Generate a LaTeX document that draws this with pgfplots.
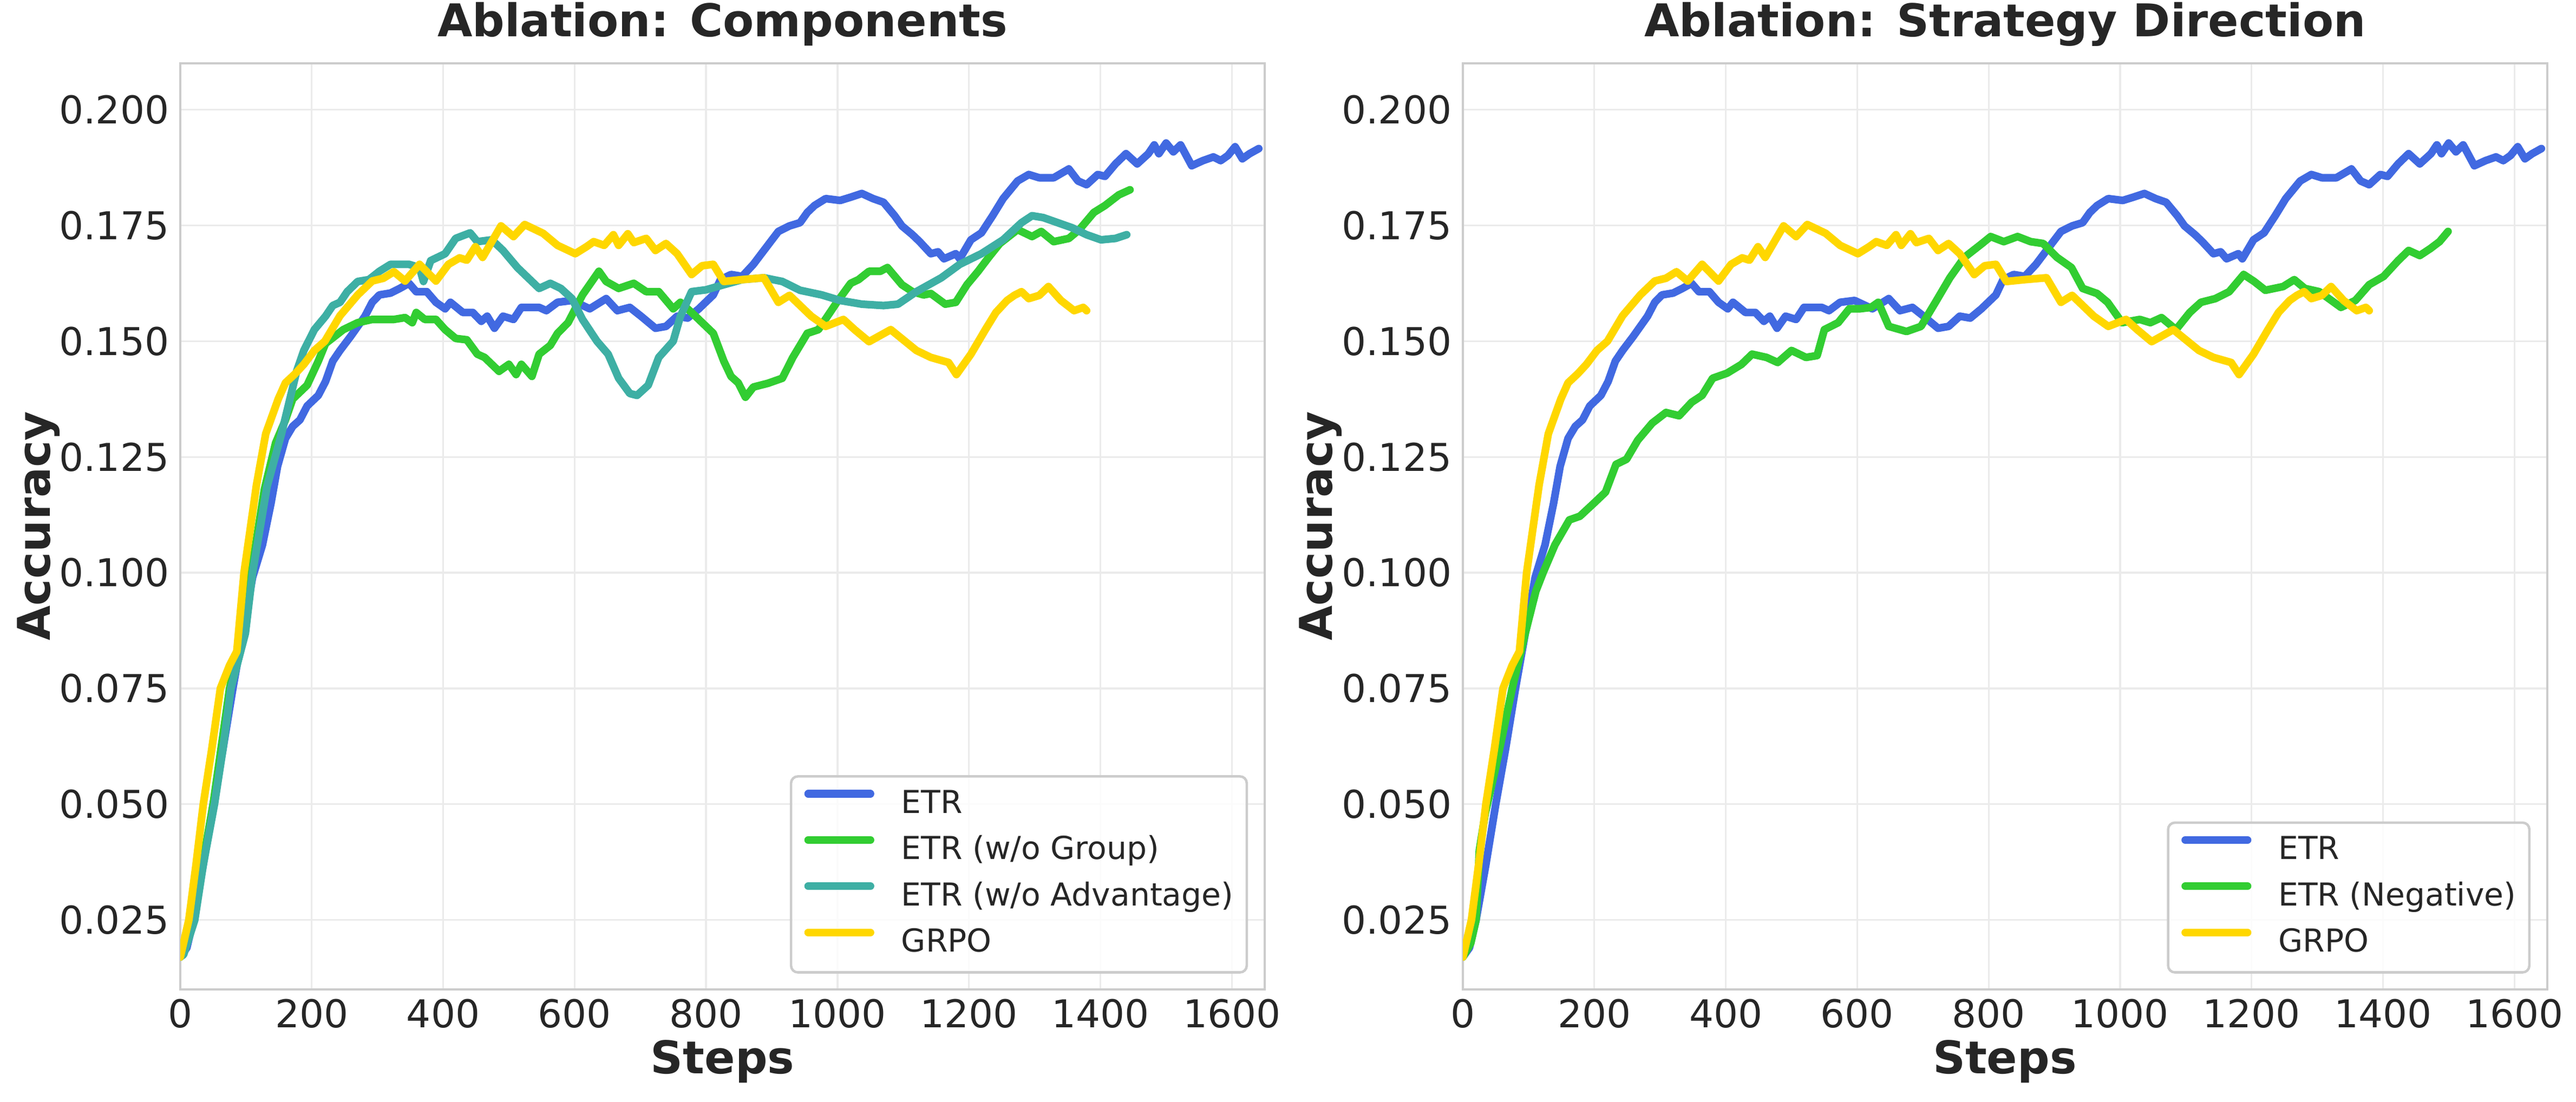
\documentclass[border=0pt]{standalone}
\usepackage{pgfplots}
\pgfplotsset{compat=1.18}
\usepackage{pgfplotstable}
\usepackage{fontspec}
\setmainfont{DejaVu Sans}

\definecolor{txt}{HTML}{262626}
\definecolor{spine}{HTML}{CCCCCC}
\definecolor{gridc}{HTML}{EBEBEB}
\definecolor{etr}{HTML}{4169E1}
\definecolor{nogroup}{HTML}{32CD32}
\definecolor{noadv}{HTML}{3EAFA4}
\definecolor{grpo}{HTML}{FFD700}

% ETR (shared by both panels)
\pgfplotstableread{
step acc
0 0.0170
10 0.0190
20 0.0250
35 0.0370
50 0.0500
65 0.0620
80 0.0750
95 0.0870
110 0.0990
125 0.1060
138 0.1150
148 0.1230
160 0.1290
171 0.1316
182 0.1330
193 0.1360
210 0.1383
221 0.1413
232 0.1457
243 0.1480
259 0.1510
270 0.1532
281 0.1554
292 0.1584
303 0.1600
320 0.1604
334 0.1614
348 0.1625
359 0.1607
375 0.1607
389 0.1584
403 0.1570
411 0.1584
430 0.1562
445 0.1562
458 0.1543
467 0.1554
478 0.1528
491 0.1554
507 0.1547
519 0.1573
546 0.1573
557 0.1566
574 0.1584
596 0.1588
623 0.1570
648 0.1592
665 0.1566
684 0.1573
701 0.1554
723 0.1528
739 0.1532
756 0.1554
772 0.1550
789 0.1570
811 0.1600
822 0.1633
838 0.1644
855 0.1640
872 0.1666
888 0.1696
910 0.1737
927 0.1749
943 0.1756
954 0.1778
965 0.1793
982 0.1808
1004 0.1804
1020 0.1811
1037 0.1819
1054 0.1808
1070 0.1800
1087 0.1771
1098 0.1749
1114 0.1730
1125 0.1715
1142 0.1689
1153 0.1693
1162 0.1678
1180 0.1689
1186 0.1678
1203 0.1719
1219 0.1734
1236 0.1771
1252 0.1808
1274 0.1846
1291 0.1860
1307 0.1853
1329 0.1853
1352 0.1872
1366 0.1846
1379 0.1838
1396 0.1860
1407 0.1856
1423 0.1883
1439 0.1905
1456 0.1883
1473 0.1905
1482 0.1924
1489 0.1905
1500 0.1928
1511 0.1909
1522 0.1924
1539 0.1879
1556 0.1890
1572 0.1898
1583 0.1890
1594 0.1901
1605 0.1920
1616 0.1894
1627 0.1905
1641 0.1916
}\etrdata

% GRPO (shared by both panels)
\pgfplotstableread{
step acc
0 0.0170
13 0.0250
24 0.0370
35 0.0500
48 0.0620
61 0.0750
75 0.0800
86 0.0830
97 0.1000
107 0.1100
116 0.1190
130 0.1300
149 0.1375
160 0.1410
175 0.1430
188 0.1450
204 0.1480
220 0.1500
243 0.1555
270 0.1600
292 0.1630
309 0.1636
325 0.1650
342 0.1630
364 0.1666
389 0.1630
408 0.1666
425 0.1680
436 0.1675
449 0.1704
460 0.1681
488 0.1749
507 0.1726
524 0.1752
552 0.1733
574 0.1707
601 0.1689
618 0.1704
629 0.1715
645 0.1707
659 0.1730
667 0.1707
681 0.1732
690 0.1713
709 0.1722
723 0.1696
739 0.1711
756 0.1689
778 0.1644
794 0.1663
811 0.1666
827 0.1629
855 0.1633
888 0.1637
910 0.1584
927 0.1599
960 0.1554
982 0.1532
1009 0.1547
1026 0.1525
1048 0.1499
1081 0.1525
1120 0.1480
1142 0.1465
1169 0.1454
1181 0.1428
1203 0.1472
1225 0.1525
1241 0.1562
1258 0.1588
1269 0.1599
1280 0.1607
1291 0.1592
1307 0.1599
1321 0.1618
1340 0.1588
1360 0.1566
1374 0.1573
1379 0.1566
}\grpodata

% ETR (w/o Group)
\pgfplotstableread{
step acc
0 0.0170
20 0.0260
50 0.0500
75 0.0750
98 0.0900
108 0.1000
128 0.1180
145 0.1280
160 0.1330
171 0.1375
193 0.1405
210 0.1457
221 0.1495
248 0.1525
270 0.1540
292 0.1547
325 0.1547
342 0.1551
353 0.1540
359 0.1562
372 0.1547
389 0.1547
403 0.1525
419 0.1506
436 0.1503
452 0.1472
463 0.1465
485 0.1435
500 0.1450
511 0.1428
519 0.1450
535 0.1424
546 0.1472
563 0.1491
574 0.1517
590 0.1540
612 0.1600
637 0.1651
648 0.1629
667 0.1614
690 0.1625
709 0.1607
728 0.1607
750 0.1570
761 0.1584
778 0.1562
811 0.1517
827 0.1457
838 0.1424
849 0.1410
860 0.1379
872 0.1401
894 0.1409
916 0.1420
932 0.1465
954 0.1517
971 0.1525
999 0.1584
1020 0.1625
1032 0.1633
1048 0.1651
1065 0.1651
1076 0.1659
1098 0.1622
1114 0.1607
1131 0.1600
1142 0.1603
1164 0.1580
1180 0.1584
1197 0.1622
1214 0.1651
1230 0.1681
1247 0.1711
1274 0.1741
1296 0.1726
1310 0.1737
1329 0.1715
1352 0.1722
1368 0.1741
1390 0.1778
1407 0.1793
1428 0.1816
1445 0.1827
}\nogroupdata

% ETR (w/o Advantage)
\pgfplotstableread{
step acc
0 0.0170
5 0.0175
22 0.0250
35 0.0370
52 0.0500
65 0.0620
77 0.0750
99 0.0869
110 0.1000
132 0.1186
154 0.1300
177 0.1435
188 0.1480
204 0.1525
221 0.1554
232 0.1577
243 0.1584
254 0.1607
270 0.1629
287 0.1633
303 0.1651
320 0.1666
348 0.1666
364 0.1659
370 0.1629
381 0.1674
403 0.1689
419 0.1722
441 0.1734
452 0.1715
474 0.1719
491 0.1696
513 0.1659
524 0.1644
546 0.1614
563 0.1625
579 0.1614
596 0.1592
612 0.1547
634 0.1500
651 0.1472
667 0.1420
684 0.1387
695 0.1383
712 0.1405
728 0.1465
750 0.1500
761 0.1554
778 0.1607
800 0.1611
827 0.1622
855 0.1633
888 0.1637
916 0.1629
943 0.1610
976 0.1600
1004 0.1588
1037 0.1580
1070 0.1577
1092 0.1580
1120 0.1607
1158 0.1637
1186 0.1666
1219 0.1689
1252 0.1719
1280 0.1756
1296 0.1771
1313 0.1767
1335 0.1756
1357 0.1745
1379 0.1730
1401 0.1719
1423 0.1722
1440 0.1730
}\noadvdata

% ETR (Negative)
\pgfplotstableread{
step acc
0 0.0170
12 0.0200
20 0.0250
25 0.0400
34 0.0480
50 0.0580
75 0.0750
95 0.0870
111 0.0960
122 0.1000
140 0.1060
162 0.1114
178 0.1122
200 0.1151
217 0.1174
233 0.1234
249 0.1245
266 0.1286
288 0.1323
309 0.1346
329 0.1339
348 0.1368
364 0.1383
380 0.1420
402 0.1431
424 0.1450
440 0.1472
462 0.1465
479 0.1454
500 0.1480
522 0.1465
539 0.1469
550 0.1525
571 0.1540
588 0.1570
604 0.1570
621 0.1573
632 0.1584
648 0.1532
675 0.1521
697 0.1532
719 0.1584
741 0.1637
763 0.1681
790 0.1711
803 0.1726
823 0.1715
844 0.1726
864 0.1715
883 0.1711
904 0.1681
926 0.1659
943 0.1614
965 0.1603
981 0.1584
1003 0.1540
1030 0.1547
1046 0.1540
1063 0.1551
1085 0.1525
1106 0.1562
1123 0.1584
1145 0.1592
1166 0.1607
1188 0.1644
1204 0.1629
1221 0.1610
1248 0.1618
1265 0.1633
1281 0.1614
1303 0.1607
1336 0.1573
1358 0.1588
1379 0.1622
1401 0.1640
1423 0.1674
1439 0.1696
1456 0.1685
1472 0.1700
1486 0.1715
1499 0.1737
}\negdata

\pgfplotsset{
  abl/.style={
    scale only axis, width=480.7pt, height=410.6pt,
    anchor=south west,
    xmin=0, xmax=1650, ymin=0.010, ymax=0.210,
    xtick={0,200,400,600,800,1000,1200,1400,1600},
    xticklabels={0,200,400,600,800,1000,1200,1400,1600},
    ytick={0.025,0.050,0.075,0.100,0.125,0.150,0.175,0.200},
    yticklabels={0.025,0.050,0.075,0.100,0.125,0.150,0.175,0.200},
    grid=major, major grid style={gridc, line width=0.8pt},
    major tick length=0pt,
    axis line style={spine, line width=1.1pt},
    /pgf/number format/assume math mode=true,
    tick label style={font=\fontsize{17}{20}\selectfont, text=txt, inner sep=0pt},
    xticklabel style={anchor=north, yshift=-4.1pt},
    yticklabel style={anchor=east, xshift=-4.8pt},
    title style={at={(0.5,1)}, anchor=base, yshift=5.8pt, inner sep=0pt,
      font=\fontsize{20}{24}\selectfont\bfseries, text=txt},
    legend cell align=left,
    legend image code/.code={\draw[#1, line width=3.4pt, line cap=round] (0pt,5pt) -- (27.6pt,5pt);},
    legend style={at={(rel axis cs:1,0)}, anchor=south east, xshift=-7.4pt, yshift=7pt,
      font=\fontsize{14}{16.8}\selectfont, text=txt,
      draw=spine, line width=1.1pt, rounded corners=3pt,
      fill=white, fill opacity=0.8, text opacity=1,
      inner xsep=5.9pt, inner ysep=5.8pt, row sep=6.7pt, column sep=12pt,
      nodes={inner sep=0pt, text height=10.5pt, text depth=3.3pt}},
    every axis plot/.append style={line width=3.4pt, line join=round, line cap=round},
  }
}

\begin{document}
\begin{tikzpicture}
\useasboundingbox (0pt,0pt) rectangle (1141.92pt,488.64pt);

\begin{axis}[abl, at={(79.92pt,49.92pt)}, title={Ablation: Components}]
\addplot[etr] table[x=step, y=acc] {\etrdata};
\addlegendentry{ETR}
\addplot[nogroup] table[x=step, y=acc] {\nogroupdata};
\addlegendentry{ETR (w/o Group)}
\addplot[noadv] table[x=step, y=acc] {\noadvdata};
\addlegendentry{ETR (w/o Advantage)}
\addplot[grpo] table[x=step, y=acc] {\grpodata};
\addlegendentry{GRPO}
\end{axis}

\begin{axis}[abl, at={(648.48pt,49.92pt)}, title={Ablation: Strategy Direction}]
\addplot[etr] table[x=step, y=acc] {\etrdata};
\addlegendentry{ETR}
\addplot[nogroup] table[x=step, y=acc] {\negdata};
\addlegendentry{ETR (Negative)}
\addplot[grpo] table[x=step, y=acc] {\grpodata};
\addlegendentry{GRPO}
\end{axis}

\node[rotate=90, anchor=base, inner sep=0pt, text=txt, font=\fontsize{20}{24}\selectfont\bfseries] at (22.1pt,255.4pt) {Accuracy};
\node[rotate=90, anchor=base, inner sep=0pt, text=txt, font=\fontsize{20}{24}\selectfont\bfseries] at (590.6pt,255.4pt) {Accuracy};
\node[anchor=base, inner sep=0pt, text=txt, font=\fontsize{20}{24}\selectfont\bfseries] at (320.3pt,12.5pt) {Steps};
\node[anchor=base, inner sep=0pt, text=txt, font=\fontsize{20}{24}\selectfont\bfseries] at (888.7pt,12.5pt) {Steps};
\end{tikzpicture}
\end{document}
